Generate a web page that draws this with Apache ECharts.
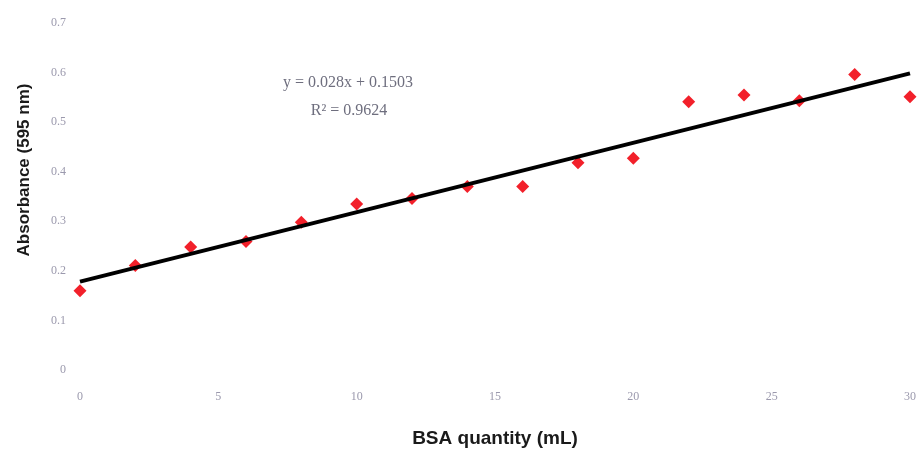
<!DOCTYPE html>
<html>
<head>
<meta charset="utf-8">
<script src="https://cdn.jsdelivr.net/npm/echarts@6/dist/echarts.min.js"></script>
<style>
  html, body { margin: 0; padding: 0; background: #fff; }
  #chart { width: 921px; height: 453px; }
</style>
</head>
<body>
<div id="chart"></div>
<script>
// BSA standard curve data
const bsaQuantity = [0, 2, 4, 6, 8, 10, 12, 14, 16, 18, 20, 22, 24, 26, 28, 30];
const absorbance = [0.160, 0.211, 0.248, 0.259, 0.298, 0.335, 0.346, 0.370,
                    0.370, 0.418, 0.427, 0.541, 0.555, 0.543, 0.596, 0.551];

// trendline as printed on the chart (x = point index 1..16)
const trendSlope = 0.028;
const trendIntercept = 0.1503;
const equationText = "y = 0.028x + 0.1503";
const r2Text = "R² = 0.9624";

const xTitle = "BSA quantity (mL)";
const yTitle = "Absorbance (595 nm)";

// trendline endpoints at first and last point
const trendLine = [
    [bsaQuantity[0], trendSlope * 1 + trendIntercept],
    [bsaQuantity[bsaQuantity.length - 1], trendSlope * bsaQuantity.length + trendIntercept],
];

const chart = echarts.init(document.getElementById("chart"));

const tickLabel = {
    fontFamily: "Liberation Serif",
    fontSize: 12,
    color: "#9b99ad",
};

const option = {
    animation: false,
    grid: { left: 80, right: 11, top: 23, bottom: 82 },
    xAxis: {
        type: "value",
        min: 0,
        max: 30,
        interval: 5,
        axisLine: { show: false },
        axisTick: { show: false },
        splitLine: { show: false },
        axisLabel: { ...tickLabel, margin: 21 },
        name: xTitle,
        nameLocation: "middle",
        nameGap: 59,
        nameTextStyle: {
            fontFamily: "Liberation Sans",
            fontWeight: "bold",
            fontSize: 19,
            color: "#1a1a1a",
        },
    },
    yAxis: {
        type: "value",
        min: 0,
        max: 0.7,
        interval: 0.1,
        axisLine: { show: false },
        axisTick: { show: false },
        splitLine: { show: false },
        axisLabel: { ...tickLabel, margin: 14 },
    },
    graphic: [
        {
            // y title sits a bit above the plot centre in the original
            type: "text",
            x: 24,
            y: 170,
            rotation: Math.PI / 2,
            style: {
                text: yTitle,
                font: "bold 17px 'Liberation Sans'",
                fill: "#1a1a1a",
                align: "center",
                verticalAlign: "middle",
            },
        },
        {
            type: "text",
            x: 348,
            y: 83,
            style: {
                text: equationText,
                font: "16px 'Liberation Serif'",
                fill: "#6e6e7e",
                align: "center",
                verticalAlign: "middle",
            },
        },
        {
            type: "text",
            x: 349,
            y: 111,
            style: {
                text: r2Text,
                font: "16px 'Liberation Serif'",
                fill: "#6e6e7e",
                align: "center",
                verticalAlign: "middle",
            },
        },
    ],
    series: [
        {
            type: "scatter",
            data: bsaQuantity.map((x, i) => [x, absorbance[i]]),
            symbol: "diamond",
            symbolSize: 13,
            itemStyle: { color: "#f2202a", opacity: 1 },
            z: 2,
        },
        {
            type: "line",
            data: trendLine,
            showSymbol: false,
            lineStyle: { color: "#000", width: 4 },
            z: 3,
        },
    ],
};

chart.setOption(option);
</script>
</body>
</html>
